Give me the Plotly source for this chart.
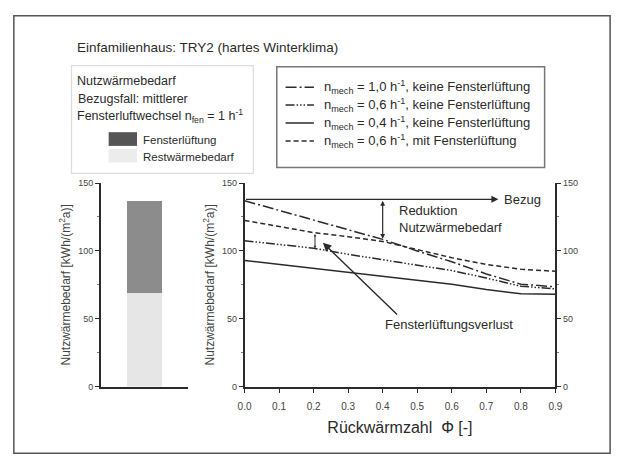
import plotly.graph_objects as go

W, H = 622, 464

# ---------------- data ----------------
phi = [0.0, 0.1, 0.2, 0.3, 0.4, 0.5, 0.6, 0.7, 0.8, 0.9]
n10_keine = [137, 130, 123, 116, 108.5, 100, 92, 83, 75.5, 73.5]
n06_keine = [107.5, 105, 102, 97.5, 93.5, 90, 85.5, 80, 74, 72]
n04_keine = [93, 90, 87, 84, 81, 78.5, 75.5, 71.5, 68.5, 68]
n06_mit = [122.5, 118, 113.5, 110.5, 107, 101, 95, 90, 86.5, 85]
bezug = 138
bar_rest = 69
bar_fenster = 68
x_ticks = [0.0, 0.1, 0.2, 0.3, 0.4, 0.5, 0.6, 0.7, 0.8, 0.9]
x_ticklabels = ["0.0", "0.1", "0.2", "0.3", "0.4", "0.5", "0.6", "0.7", "0.8", "0.9"]
y_ticks = [0, 50, 100, 150]
y_ticklabels = ["0", "50", "100", "150"]
series_names = [
    "n<sub>mech</sub> = 1,0 h<sup>-1</sup>, keine Fensterlüftung",
    "n<sub>mech</sub> = 0,6 h<sup>-1</sup>, keine Fensterlüftung",
    "n<sub>mech</sub> = 0,4 h<sup>-1</sup>, keine Fensterlüftung",
    "n<sub>mech</sub> = 0,6 h<sup>-1</sup>, mit Fensterlüftung",
]

FONT = "Liberation Sans, Arial, sans-serif"
INK = "#2b2b2b"
dashes = ["11px,3px,2px,3px", "9px,2px,1.5px,2px,1.5px,2px,1.5px,2px", "solid", "5px,3px"]


def px(x):
    return x / W


def py(y):
    return 1 - y / H


fig = go.Figure()

# bar chart (left)
fig.add_trace(go.Bar(x=[0], y=[bar_rest], width=0.4, marker=dict(color="#e6e6e6", line=dict(width=0)),
                     xaxis="x", yaxis="y", showlegend=False, name="Restwärmebedarf"))
fig.add_trace(go.Bar(x=[0], y=[bar_fenster], width=0.4, marker=dict(color="#8c8c8c", line=dict(width=0)),
                     xaxis="x", yaxis="y", showlegend=False, name="Fensterlüftung"))

# line chart (right)
for vals, name, d in zip([n10_keine, n06_keine, n04_keine, n06_mit], series_names, dashes):
    fig.add_trace(go.Scatter(x=phi, y=vals, mode="lines", name=name,
                             line=dict(color=INK, width=1.5, dash=d),
                             xaxis="x2", yaxis="y2", showlegend=False))

yax_common = dict(range=[0, 150], tickvals=y_ticks, ticktext=y_ticklabels, ticks="outside", ticklen=4,
                  tickwidth=1.2, tickcolor=INK, showline=True, linecolor=INK, linewidth=1.5,
                  showgrid=False, zeroline=False, tickfont=dict(size=9, color="#444", family=FONT),
                  minor=dict(ticks="outside", ticklen=2, dtick=25, tickcolor="#777", showgrid=False),
                  domain=[py(390), py(182)])

ytitle = dict(text="Nutzwärmebedarf [kWh/(m<sup>2</sup>a)]", font=dict(size=12, color="#444", family=FONT),
              standoff=5)

fig.update_layout(
    width=W, height=H, margin=dict(l=0, r=0, t=0, b=0),
    paper_bgcolor="white", plot_bgcolor="rgba(0,0,0,0)",
    barmode="stack", showlegend=False,
    font=dict(family=FONT, color=INK, size=12),
    xaxis=dict(domain=[px(96), px(185)], range=[-0.5, 0.5], showticklabels=False, ticks="",
               showline=True, linecolor=INK, linewidth=1.5, showgrid=False, zeroline=False, anchor="y"),
    yaxis=dict(anchor="x", title=ytitle, **yax_common),
    xaxis2=dict(domain=[px(243), px(561)], range=[0, 0.9], tickvals=x_ticks, ticktext=x_ticklabels,
                ticks="outside", ticklen=5, tickwidth=1.2, tickcolor=INK, showline=True, linecolor=INK,
                linewidth=1.5, showgrid=False, zeroline=False, anchor="y2", ticklabelstandoff=5,
                tickfont=dict(size=10, color="#444", family=FONT),
                title=dict(text="Rückwärmzahl  Φ [-]", font=dict(size=16, color=INK, family=FONT), standoff=10)),
    yaxis2=dict(anchor="x2", title=ytitle, **yax_common),
    yaxis3=dict(anchor="x2", overlaying="y2", side="right", **yax_common),
)

# invisible trace on y3 so the right axis is drawn
fig.add_trace(go.Scatter(x=[phi[0]], y=[bezug], mode="markers", marker=dict(opacity=0),
                         xaxis="x2", yaxis="y3", showlegend=False, hoverinfo="skip"))

shapes = []
ann = []

# outer frame
shapes.append(dict(type="rect", xref="paper", yref="paper", x0=px(7), x1=px(617), y0=py(458), y1=py(11),
                   line=dict(color="#555", width=1.5)))
# title
ann.append(dict(text="Einfamilienhaus: TRY2 (hartes Winterklima)", xref="paper", yref="paper",
                x=px(70), y=py(43), xanchor="left", yanchor="middle", showarrow=False,
                font=dict(size=13.5, color=INK)))

# left info box
shapes.append(dict(type="rect", xref="paper", yref="paper", x0=px(66), x1=px(252), y0=py(172), y1=py(62),
                   line=dict(color="#dddddd", width=1.2)))
for txt, yy, xx in [("Nutzwärmebedarf", 78, 70), ("Bezugsfall: mittlerer", 96, 71),
                    ("Fensterluftwechsel n<sub>fen</sub> = 1 h<sup>-1</sup>", 113, 70)]:
    ann.append(dict(text=txt, xref="paper", yref="paper", x=px(xx), y=py(yy), xanchor="left",
                    yanchor="middle", showarrow=False, font=dict(size=12.5, color=INK)))
shapes.append(dict(type="rect", xref="paper", yref="paper", x0=px(104), x1=px(133), y0=py(144), y1=py(130),
                   fillcolor="#555", line=dict(width=0)))
shapes.append(dict(type="rect", xref="paper", yref="paper", x0=px(104), x1=px(133), y0=py(161), y1=py(147),
                   fillcolor="#ececec", line=dict(width=0)))
ann.append(dict(text="Fensterlüftung", xref="paper", yref="paper", x=px(137), y=py(138), xanchor="left",
                yanchor="middle", showarrow=False, font=dict(size=11.5, color=INK)))
ann.append(dict(text="Restwärmebedarf", xref="paper", yref="paper", x=px(137), y=py(155), xanchor="left",
                yanchor="middle", showarrow=False, font=dict(size=11.5, color=INK)))

# line legend box
shapes.append(dict(type="rect", xref="paper", yref="paper", x0=px(276), x1=px(550), y0=py(166), y1=py(63),
                   line=dict(color="#777", width=1.5)))
for i, (name, d) in enumerate(zip(series_names, dashes)):
    yy = 84 + i * 18.3
    shapes.append(dict(type="line", xref="paper", yref="paper", x0=px(285), x1=px(314), y0=py(yy), y1=py(yy),
                       line=dict(color=INK, width=1.5, dash=d)))
    ann.append(dict(text=name, xref="paper", yref="paper", x=px(322), y=py(yy), xanchor="left",
                    yanchor="middle", showarrow=False, font=dict(size=13, color=INK)))

# Bezug arrow
ann.append(dict(text="", x=0.735, y=bezug, ax=0.0, ay=bezug, xref="x2", yref="y2", axref="x2", ayref="y2",
                showarrow=True, arrowhead=2, arrowsize=1, arrowwidth=1.4, arrowcolor=INK))
ann.append(dict(text="Bezug", x=0.745, y=bezug, xref="x2", yref="y2", xanchor="left", yanchor="middle",
                showarrow=False, font=dict(size=13, color=INK)))
# Reduktion arrow
ann.append(dict(text="", x=0.4, y=n10_keine[4] + 0.5, ax=0.4, ay=bezug, xref="x2", yref="y2", axref="x2",
                ayref="y2", showarrow=True, arrowhead=2, startarrowhead=2, arrowside="end+start",
                arrowsize=0.8, arrowwidth=1.2, arrowcolor=INK))
ann.append(dict(text="Reduktion", x=0.44, y=130, xref="x2", yref="y2", xanchor="left", yanchor="middle",
                showarrow=False, font=dict(size=13, color=INK)))
ann.append(dict(text="Nutzwärmebedarf", x=0.44, y=117, xref="x2", yref="y2", xanchor="left",
                yanchor="middle", showarrow=False, font=dict(size=13, color=INK)))
# small arrow between dashed and dash-dot-dot
ann.append(dict(text="", x=0.204, y=n06_keine[2], ax=0.204, ay=n06_mit[2], xref="x2", yref="y2",
                axref="x2", ayref="y2", showarrow=True, arrowhead=2, startarrowhead=2, arrowside="end+start",
                arrowsize=0.5, arrowwidth=1.0, arrowcolor=INK))
# Fensterlüftungsverlust arrow
ann.append(dict(text="", x=0.227, y=106, ax=0.446, ay=52, xref="x2", yref="y2", axref="x2", ayref="y2",
                showarrow=True, arrowhead=2, arrowsize=1.2, arrowwidth=1.4, arrowcolor=INK))
ann.append(dict(text="Fensterlüftungsverlust", x=0.593, y=45.5, xref="x2", yref="y2", xanchor="center",
                yanchor="middle", showarrow=False, font=dict(size=13, color=INK)))

fig.update_layout(shapes=shapes, annotations=ann)
fig.write_html("out.html", config={"displayModeBar": False},
               post_script="document.body.style.margin='0';")
